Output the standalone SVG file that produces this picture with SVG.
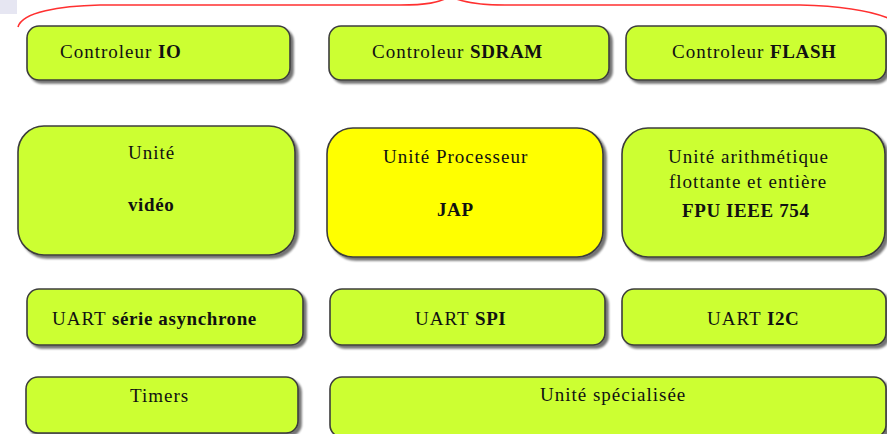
<svg xmlns="http://www.w3.org/2000/svg" width="887" height="434" viewBox="0 0 887 434">
  <defs>
    <filter id="shadow" x="-5%" y="-10%" width="115%" height="130%">
      <feGaussianBlur in="SourceAlpha" stdDeviation="1.2"/>
      <feOffset dx="3" dy="3" result="off"/>
      <feComponentTransfer><feFuncA type="linear" slope="0.55"/></feComponentTransfer>
      <feMerge><feMergeNode/><feMergeNode in="SourceGraphic"/></feMerge>
    </filter>
  </defs>
  <style>
    .box { fill: #CCFF33; stroke: #3c3c3c; stroke-width: 1.6; filter: url(#shadow); }
    .cpu { fill: #FFFF00; }
    text { font-family: "Liberation Serif", "Times New Roman", serif; font-size: 19px; letter-spacing: 1px; fill: #111; }
    .b { font-weight: bold; letter-spacing: 0.6px; }
    .brace { fill: none; stroke: #FF3030; stroke-width: 1.6; }
  </style>

  <rect x="0" y="0" width="17" height="14" fill="#E6E6F2"/>

  <g id="connectors">
    <path class="brace" d="M 18 27 C 22 12 60 6 100 5 L 400 5 C 425 5 440 3 450 -4 C 462 3 480 5 505 5 L 800 5 C 840 6 870 10 890 19"/>
  </g>

  <g id="ctrl-io">
    <rect class="box" x="27" y="26" width="263" height="54" rx="12"/>
    <text x="60" y="58">Controleur <tspan class="b">IO</tspan></text>
  </g>
  <g id="ctrl-sdram">
    <rect class="box" x="329" y="26" width="280" height="54" rx="12"/>
    <text x="372" y="58">Controleur <tspan class="b">SDRAM</tspan></text>
  </g>
  <g id="ctrl-flash">
    <rect class="box" x="626" y="26" width="260" height="54" rx="12"/>
    <text x="672" y="58">Controleur <tspan class="b">FLASH</tspan></text>
  </g>

  <g id="unite-video">
    <rect class="box" x="18" y="126" width="277" height="129" rx="26"/>
    <text x="128" y="159">Unité</text>
    <text class="b" x="128" y="211">vidéo</text>
  </g>
  <g id="unite-processeur">
    <rect class="box cpu" x="327" y="128" width="276" height="129" rx="26"/>
    <text x="383" y="163">Unité Processeur</text>
    <text class="b" x="437" y="216">JAP</text>
  </g>
  <g id="unite-fpu">
    <rect class="box" x="622" y="128" width="263" height="129" rx="26"/>
    <text x="668" y="163">Unité arithmétique</text>
    <text x="669" y="188">flottante et entière</text>
    <text class="b" x="682" y="217">FPU IEEE 754</text>
  </g>

  <g id="uart-serie">
    <rect class="box" x="27" y="289" width="276" height="56" rx="12"/>
    <text x="52" y="325">UART <tspan class="b">série asynchrone</tspan></text>
  </g>
  <g id="uart-spi">
    <rect class="box" x="330" y="289" width="275" height="56" rx="12"/>
    <text x="415" y="325">UART <tspan class="b">SPI</tspan></text>
  </g>
  <g id="uart-i2c">
    <rect class="box" x="622" y="289" width="264" height="56" rx="12"/>
    <text x="707" y="325">UART <tspan class="b">I2C</tspan></text>
  </g>

  <g id="timers">
    <rect class="box" x="26" y="377" width="272" height="56" rx="12"/>
    <text x="130" y="402">Timers</text>
  </g>
  <g id="unite-specialisee">
    <rect class="box" x="330" y="377" width="556" height="60" rx="12"/>
    <text x="540" y="401">Unité spécialisée</text>
  </g>
</svg>
